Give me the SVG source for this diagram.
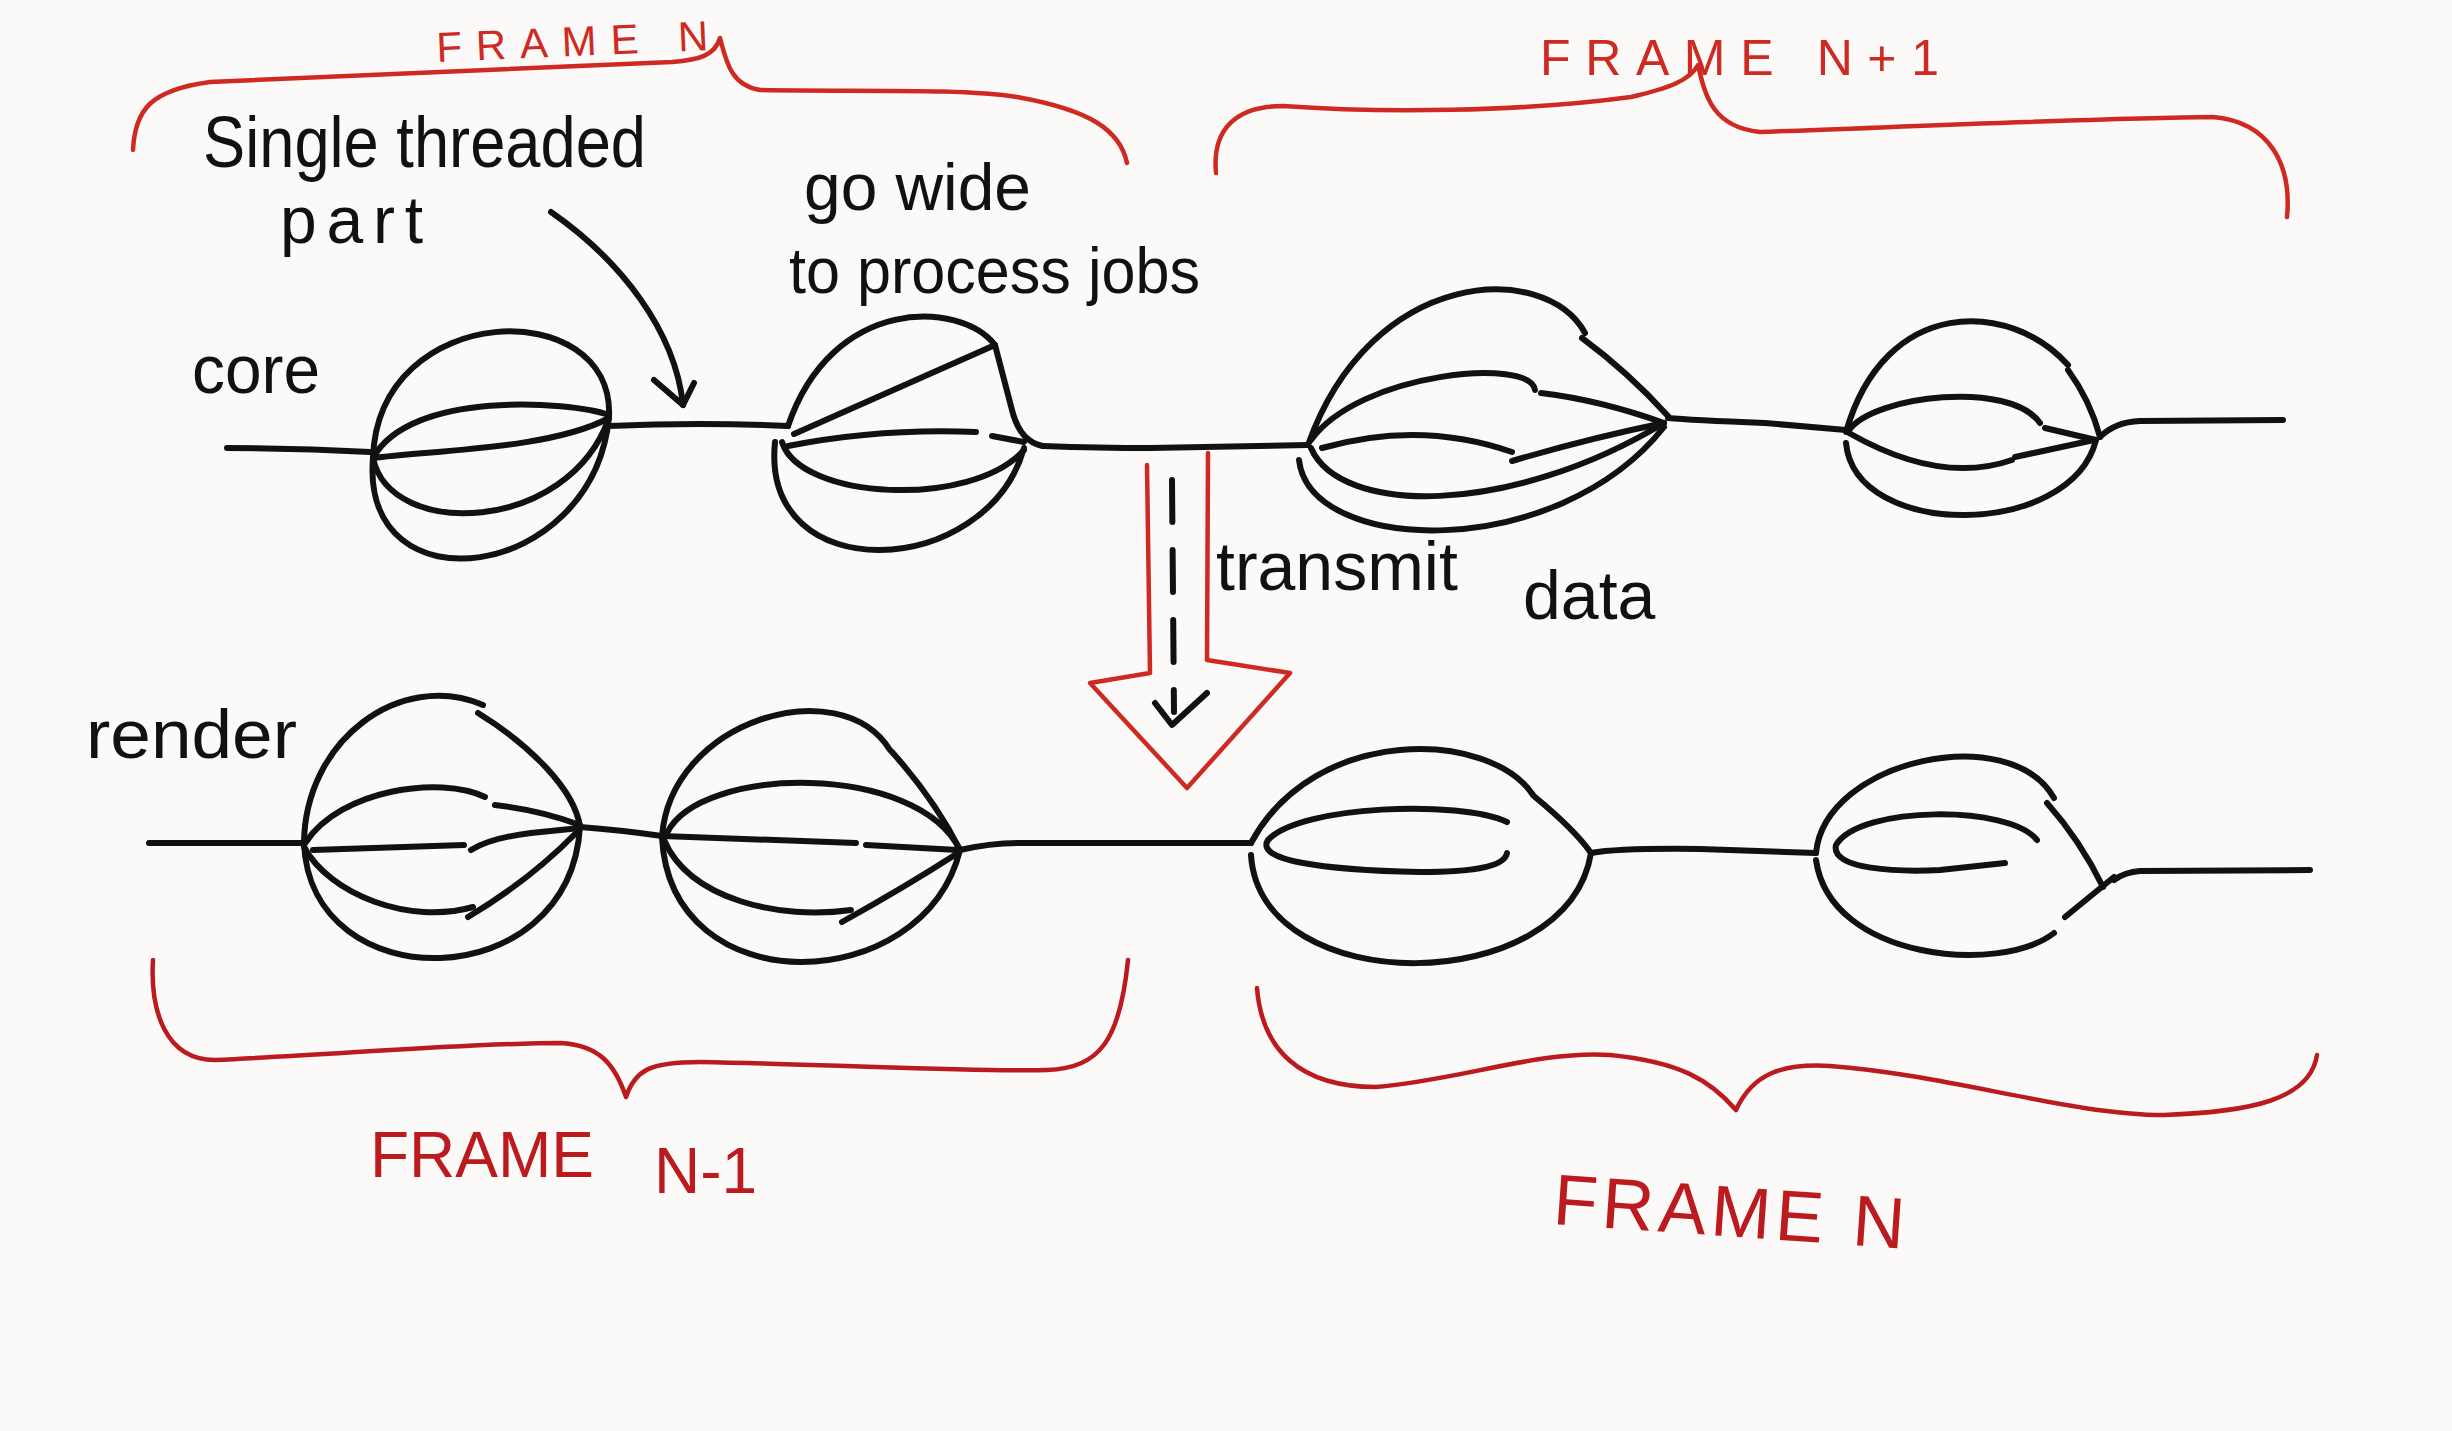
<svg xmlns="http://www.w3.org/2000/svg" width="2452" height="1431" viewBox="0 0 2452 1431">
<style>
.ink{fill:none;stroke:#111;stroke-width:6;stroke-linecap:round;stroke-linejoin:round}
.red{fill:none;stroke:#cf2a22;stroke-width:4.5;stroke-linecap:round;stroke-linejoin:round}
.red2{fill:none;stroke:#bb1a1e;stroke-width:4.5;stroke-linecap:round;stroke-linejoin:round}
.hand{font-family:"Liberation Sans","DejaVu Sans",sans-serif;fill:#111}
.lbl{font-family:"Liberation Sans","DejaVu Sans",sans-serif;fill:#cf2a22}
.lbl2{font-family:"Liberation Sans","DejaVu Sans",sans-serif;fill:#bb1a1e}
</style>
<rect width="2452" height="1431" fill="#fbfaf8"/>

<g id="timelines">
  <g id="core-line">
    <path class="ink" d="M227,448 Q300,448 370,452"/>
    <path class="ink" d="M609,426 Q700,422 788,426"/>
    <path class="ink" d="M1043,446 Q1100,448 1150,448 L1308,445"/>
    <path class="ink" d="M1668,418 Q1690,420 1765,423 L1846,430"/>
    <path class="ink" d="M2100,437 Q2115,422 2140,421 L2283,420"/>
  </g>
  <g id="render-line">
    <path class="ink" d="M149,843 L304,843"/>
    <path class="ink" d="M580,827 Q620,830 662,836"/>
    <path class="ink" d="M960,850 Q990,843 1020,843 L1251,843"/>
    <path class="ink" d="M1591,853 Q1620,848 1700,849 L1816,853"/>
    <path class="ink" d="M2114,880 Q2125,872 2140,871 L2310,870"/>
  </g>
</g>

<g id="core-job-1">
  <path class="ink" d="M373,458 C378,300 615,294 609,417"/>
  <path class="ink" d="M373,458 C360,612 593,582 609,417"/>
  <path class="ink" d="M373,458 C410,390 569,401 609,415"/>
  <path class="ink" d="M373,458 C430,450 549,450 609,418"/>
  <path class="ink" d="M373,458 C390,540 568,534 609,418"/>
</g>

<g id="core-job-2">
  <path class="ink" d="M788,426 C832,296 960,300 995,345"/>
  <path class="ink" d="M794,434 L995,345"/>
  <path class="ink" d="M995,345 L1012,410 Q1020,442 1043,446"/>
  <path class="ink" d="M788,446 Q880,428 976,432"/>
  <path class="ink" d="M992,436 L1024,442"/>
  <path class="ink" d="M782,442 C800,500 971,509 1024,450"/>
  <path class="ink" d="M775,442 C760,590 987,580 1024,448"/>
</g>

<g id="core-job-3">
  <path class="ink" d="M1308,445 C1371,267 1545,260 1585,333"/>
  <path class="ink" d="M1582,338 Q1628,372 1668,416"/>
  <path class="ink" d="M1311,440 C1360,372 1531,357 1535,390"/>
  <path class="ink" d="M1541,393 Q1600,400 1664,423"/>
  <path class="ink" d="M1322,448 Q1420,420 1512,452"/>
  <path class="ink" d="M1512,461 Q1590,438 1664,423"/>
  <path class="ink" d="M1311,448 C1340,515 1508,517 1664,423"/>
  <path class="ink" d="M1299,460 C1310,555 1556,563 1664,427"/>
</g>

<g id="core-job-4">
  <path class="ink" d="M1846,432 C1885,296 2010,300 2068,365"/>
  <path class="ink" d="M2068,370 Q2090,400 2100,437"/>
  <path class="ink" d="M1849,430 C1875,395 2010,380 2040,423"/>
  <path class="ink" d="M2045,428 L2096,440"/>
  <path class="ink" d="M1849,433 Q1940,485 2012,460"/>
  <path class="ink" d="M2015,457 L2094,440"/>
  <path class="ink" d="M1846,443 C1855,540 2071,539 2096,440"/>
</g>

<g id="render-job-1">
  <path class="ink" d="M304,843 C305,740 400,670 483,705"/>
  <path class="ink" d="M478,713 C530,745 575,790 580,827"/>
  <path class="ink" d="M304,843 C310,1000 569,998 580,827"/>
  <path class="ink" d="M306,842 C340,790 440,775 485,797"/>
  <path class="ink" d="M495,805 Q540,810 580,825"/>
  <path class="ink" d="M313,850 L464,845"/>
  <path class="ink" d="M471,850 Q490,838 531,833 L580,828"/>
  <path class="ink" d="M304,847 C330,895 410,925 473,907"/>
  <path class="ink" d="M468,917 Q530,880 576,833"/>
</g>

<g id="render-job-2">
  <path class="ink" d="M662,837 C670,720 840,670 890,750"/>
  <path class="ink" d="M892,752 Q935,800 960,850"/>
  <path class="ink" d="M662,837 C670,1005 923,998 960,850"/>
  <path class="ink" d="M667,833 C700,765 918,762 960,850"/>
  <path class="ink" d="M662,836 L856,843"/>
  <path class="ink" d="M866,845 L958,850"/>
  <path class="ink" d="M664,840 C690,900 780,920 851,910"/>
  <path class="ink" d="M842,922 Q905,887 958,853"/>
</g>

<g id="render-job-3">
  <path class="ink" d="M1251,843 C1315,724 1490,730 1533,795"/>
  <path class="ink" d="M1535,797 Q1575,830 1591,853"/>
  <path class="ink" d="M1251,855 C1260,1000 1567,999 1591,853"/>
  <path class="ink" d="M1507,822 C1460,800 1300,805 1268,840 C1255,860 1320,870 1420,872 C1480,872 1505,865 1507,853"/>
</g>

<g id="render-job-4">
  <path class="ink" d="M1816,853 C1825,760 2010,720 2054,798"/>
  <path class="ink" d="M2047,803 Q2080,840 2103,887"/>
  <path class="ink" d="M1816,860 C1830,960 2000,975 2054,933"/>
  <path class="ink" d="M2065,917 L2114,877"/>
  <path class="ink" d="M2037,840 C2010,805 1860,805 1836,845 C1830,870 1900,872 1940,870 L2005,863"/>
</g>

<g id="connectors">
  <path class="ink" d="M551,212 C620,260 675,330 683,405"/>
  <path class="ink" d="M654,380 L683,405 L694,383"/>
  <path class="red" d="M1147,465 L1150,673 L1090,683 L1187,788 L1290,673 L1207,660 L1208,453"/>
  <path class="ink" d="M1172,480 L1174,712" stroke-dasharray="42 28"/>
  <path class="ink" d="M1155,703 L1172,725 L1207,693"/>
</g>

<g id="braces">
  <path class="red" d="M133,150 C135,110 150,90 210,82 C330,78 500,70 672,62 C700,60 715,55 720,38 C726,60 730,85 760,90 C850,92 960,88 1017,97 C1090,110 1120,130 1127,163"/>
  <path class="red" d="M1216,173 C1212,130 1235,106 1283,106 C1380,113 1520,112 1631,97 C1670,88 1690,80 1698,65 C1705,95 1712,127 1760,132 C1900,127 2100,118 2213,117 C2270,122 2292,165 2287,217"/>
  <path class="red2" d="M153,960 C150,1010 165,1060 215,1060 C330,1055 470,1043 560,1043 C600,1045 615,1065 626,1097 C635,1070 650,1062 700,1062 C850,1065 980,1072 1047,1070 C1100,1068 1120,1040 1128,960"/>
  <path class="red2" d="M1257,988 C1262,1050 1300,1087 1376,1087 C1460,1080 1540,1050 1610,1055 C1680,1062 1710,1080 1736,1110 C1752,1075 1780,1063 1830,1066 C1950,1075 2070,1115 2164,1115 C2250,1112 2310,1100 2317,1055"/>
</g>

<g id="labels">
  <text class="lbl" font-size="42" x="437" y="62" textLength="272" lengthAdjust="spacing" transform="rotate(-2.5 437 62)">FRAME N</text>
  <text class="lbl" font-size="50" x="1540" y="75" textLength="399" lengthAdjust="spacing">FRAME N+1</text>
  <text class="lbl2" font-size="64"><tspan x="370" y="1177">FRAME</tspan><tspan x="654" y="1193">N-1</tspan></text>
  <text class="lbl2" font-size="72" x="1552" y="1224" textLength="352" lengthAdjust="spacing" transform="rotate(4 1552 1224)">FRAME N</text>
  <text class="hand" font-size="72" x="203" y="167" textLength="443" lengthAdjust="spacingAndGlyphs">Single threaded</text>
  <text class="hand" font-size="66" x="280" y="243" textLength="143" lengthAdjust="spacing">part</text>
  <text class="hand" font-size="66" x="804" y="210" textLength="227" lengthAdjust="spacingAndGlyphs">go wide</text>
  <text class="hand" font-size="64" x="789" y="293" textLength="411" lengthAdjust="spacingAndGlyphs">to process jobs</text>
  <text class="hand" font-size="68" x="192" y="393" textLength="128" lengthAdjust="spacingAndGlyphs">core</text>
  <text class="hand" font-size="68" x="86" y="758" textLength="211" lengthAdjust="spacingAndGlyphs">render</text>
  <text class="hand" font-size="68"><tspan x="1216" y="590">transmit</tspan><tspan x="1523" y="619">data</tspan></text>
</g>
</svg>
